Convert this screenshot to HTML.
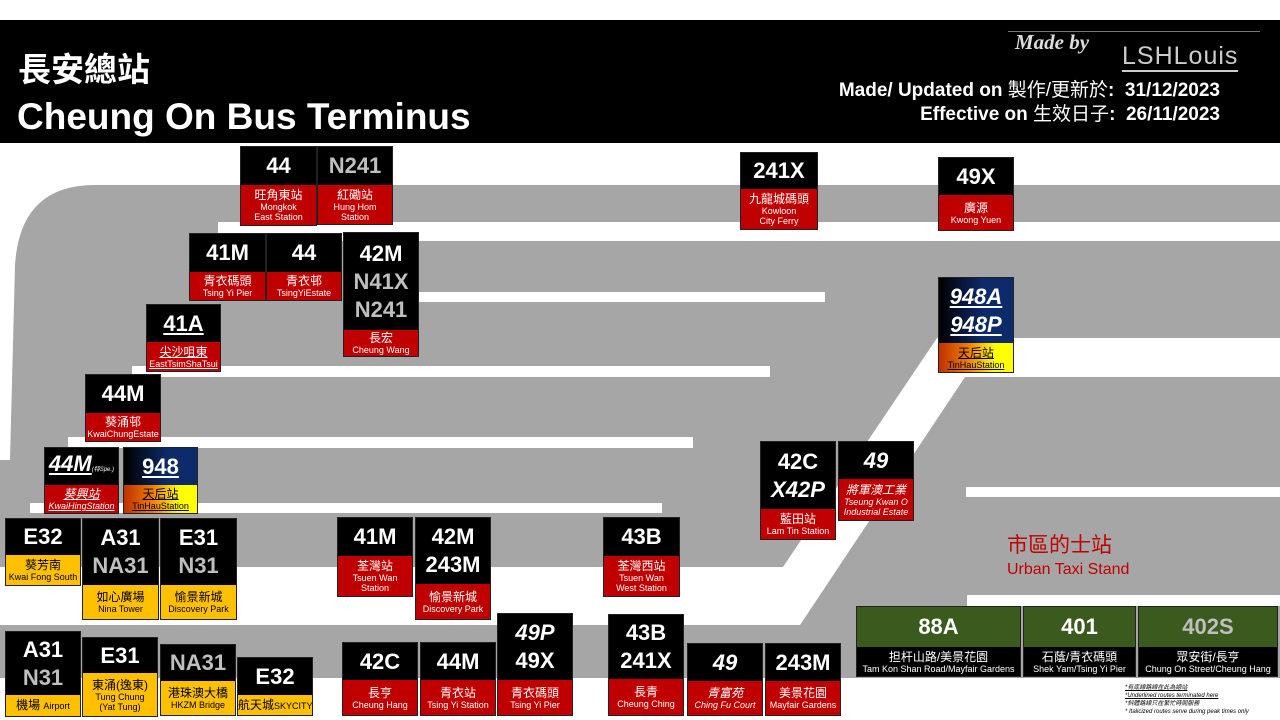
<!DOCTYPE html>
<html><head><meta charset="utf-8">
<style>
*{margin:0;padding:0}
body{width:1280px;height:720px;position:relative;overflow:hidden;background:#fff;font-family:"Liberation Sans","Noto Sans CJK TC",sans-serif}
.bx{position:absolute;display:flex;flex-direction:column;border:1px solid #222;box-sizing:border-box}
.t{background:#000;color:#fff;font-weight:bold;font-size:22px;line-height:28px;text-align:center;display:flex;flex-direction:column;justify-content:center}
.bt{flex:1;text-align:center;display:flex;flex-direction:column;justify-content:center;overflow:hidden;white-space:nowrap}
.r{background:#c00000;color:#fff}
.y{background:#ffc000;color:#000}
.ti{background:linear-gradient(90deg,#c03000,#f08000 40%,#ffff00 75%);color:#000}
.nv{background:linear-gradient(90deg,#000 0%,#0d2a6b 60%,#0d2a6b)}
.zh{font-size:12px;line-height:14px}
.en{font-size:9px;line-height:10px}
.g{color:#bfbfbf}
.i{font-style:italic}
.u{text-decoration:underline}
</style></head><body>
<svg width="1280" height="720" style="position:absolute;left:0;top:0">
<path d="M95,185 H1280 V678 H0 V460 L10,460 L15,265 Q20,185 95,185 Z" fill="#a6a6a6"/>
<rect x="218" y="222" width="1062" height="19" fill="#fff"/>
<rect x="418" y="292" width="407" height="10" fill="#fff"/>
<rect x="132" y="366" width="638" height="11" fill="#fff"/>
<rect x="68" y="437" width="625" height="11" fill="#fff"/>
<rect x="30" y="503" width="632" height="10" fill="#fff"/>
<rect x="966" y="487" width="314" height="10" fill="#fff"/>
<rect x="967" y="595" width="313" height="11" fill="#fff"/>
<polygon points="0,567 783,567 937,338 1280,338 1280,377 965,377 800,625 0,625" fill="#fff"/>
</svg>
<div style="position:absolute;left:0;top:20px;width:1280px;height:123px;background:#000"></div>
<div style="position:absolute;left:18px;top:50px;color:#fff;font-size:33px;font-weight:bold;line-height:40px">長安總站</div>
<div style="position:absolute;left:17px;top:95px;color:#fff;font-size:37px;font-weight:bold;line-height:44px">Cheung On Bus Terminus</div>
<div style="position:absolute;left:1008px;top:31px;width:252px;height:1px;background:#777"></div>
<div style="position:absolute;left:1015px;top:30px;color:#ddd;font-size:21px;font-style:italic;font-weight:bold;font-family:'Liberation Serif',serif">Made by</div>
<div style="position:absolute;left:1122px;top:42px;color:#ccc;font-size:25px;letter-spacing:1px;border-bottom:2px solid #ccc;line-height:28px">LSHLouis</div>
<div style="position:absolute;right:60px;top:79px;color:#fff;font-size:19px;font-weight:bold;line-height:24px;text-align:right;white-space:pre">Made/ Updated on <span style="font-weight:normal">製作/更新於</span>:  31/12/2023
Effective on <span style="font-weight:normal">生效日子</span>:  26/11/2023</div>

<div class="bx" style="left:240px;top:146px;width:77px;height:80px"><div class="t" style="height:38px">44</div><div class="bt r"><div class="zh">旺角東站</div><div class="en">Mongkok<br>East Station</div></div></div>
<div class="bx" style="left:317px;top:146px;width:76px;height:79px"><div class="t g" style="height:38px">N241</div><div class="bt r"><div class="zh">紅磡站</div><div class="en">Hung Hom<br>Station</div></div></div>
<div class="bx" style="left:189px;top:233px;width:77px;height:68px"><div class="t" style="height:38px">41M</div><div class="bt r"><div class="zh">青衣碼頭</div><div class="en">Tsing Yi Pier</div></div></div>
<div class="bx" style="left:266px;top:233px;width:76px;height:68px"><div class="t" style="height:38px">44</div><div class="bt r"><div class="zh">青衣邨</div><div class="en">TsingYiEstate</div></div></div>
<div class="bx" style="left:343px;top:232px;width:76px;height:125px"><div class="t" style="height:97px">42M<span class="g">N41X</span><span class="g">N241</span></div><div class="bt r"><div class="zh">長宏</div><div class="en">Cheung Wang</div></div></div>
<div class="bx" style="left:146px;top:304px;width:75px;height:68px"><div class="t" style="height:37px"><span class="u">41A</span></div><div class="bt r u"><div class="zh">尖沙咀東</div><div class="en">EastTsimShaTsui</div></div></div>
<div class="bx" style="left:85px;top:374px;width:76px;height:68px"><div class="t" style="height:38px">44M</div><div class="bt r"><div class="zh">葵涌邨</div><div class="en">KwaiChungEstate</div></div></div>
<div class="bx" style="left:44px;top:447px;width:75px;height:67px"><div class="t i" style="height:37px"><span><span class="u">44M</span><span style="font-size:6px;font-weight:normal">(特Spe.)</span></span></div><div class="bt r i u"><div class="zh">葵興站</div><div class="en">KwaiHingStation</div></div></div>
<div class="bx" style="left:123px;top:447px;width:75px;height:67px"><div class="t nv" style="height:37px"><span class="u">948</span></div><div class="bt ti u"><div class="zh">天后站</div><div class="en">TinHauStation</div></div></div>
<div class="bx" style="left:5px;top:518px;width:76px;height:68px"><div class="t" style="height:36px">E32</div><div class="bt y"><div class="zh">葵芳南</div><div class="en">Kwai Fong South</div></div></div>
<div class="bx" style="left:82px;top:518px;width:77px;height:102px"><div class="t" style="height:66px">A31<span class="g">NA31</span></div><div class="bt y"><div class="zh">如心廣場</div><div class="en">Nina Tower</div></div></div>
<div class="bx" style="left:160px;top:518px;width:77px;height:102px"><div class="t" style="height:66px">E31<span class="g">N31</span></div><div class="bt y"><div class="zh">愉景新城</div><div class="en">Discovery Park</div></div></div>
<div class="bx" style="left:337px;top:517px;width:76px;height:80px"><div class="t" style="height:38px">41M</div><div class="bt r"><div class="zh">荃灣站</div><div class="en">Tsuen Wan<br>Station</div></div></div>
<div class="bx" style="left:415px;top:517px;width:76px;height:103px"><div class="t" style="height:66px">42M<span>243M</span></div><div class="bt r"><div class="zh">愉景新城</div><div class="en">Discovery Park</div></div></div>
<div class="bx" style="left:603px;top:517px;width:77px;height:80px"><div class="t" style="height:38px">43B</div><div class="bt r"><div class="zh">荃灣西站</div><div class="en">Tsuen Wan<br>West Station</div></div></div>
<div class="bx" style="left:5px;top:631px;width:76px;height:86px"><div class="t" style="height:63px">A31<span class="g">N31</span></div><div class="bt y"><div class="zh">機場 <span style="font-size:9px">Airport</span></div></div></div>
<div class="bx" style="left:82px;top:637px;width:76px;height:80px"><div class="t" style="height:35px">E31</div><div class="bt y"><div class="zh">東涌(逸東)</div><div class="en">Tung Chung<br>(Yat Tung)</div></div></div>
<div class="bx" style="left:160px;top:644px;width:76px;height:72px"><div class="t g" style="height:36px">NA31</div><div class="bt y"><div class="zh">港珠澳大橋</div><div class="en">HKZM Bridge</div></div></div>
<div class="bx" style="left:237px;top:657px;width:76px;height:59px"><div class="t" style="height:37px">E32</div><div class="bt y"><div class="zh">航天城<span style="font-size:9px">SKYCITY</span></div></div></div>
<div class="bx" style="left:342px;top:642px;width:76px;height:74px"><div class="t" style="height:37px">42C</div><div class="bt r"><div class="zh">長亨</div><div class="en">Cheung Hang</div></div></div>
<div class="bx" style="left:420px;top:642px;width:76px;height:74px"><div class="t" style="height:37px">44M</div><div class="bt r"><div class="zh">青衣站</div><div class="en">Tsing Yi Station</div></div></div>
<div class="bx" style="left:497px;top:613px;width:76px;height:103px"><div class="t" style="height:66px"><span class="i">49P</span><span>49X</span></div><div class="bt r"><div class="zh">青衣碼頭</div><div class="en">Tsing Yi Pier</div></div></div>
<div class="bx" style="left:608px;top:614px;width:76px;height:102px"><div class="t" style="height:64px">43B<span>241X</span></div><div class="bt r"><div class="zh">長青</div><div class="en">Cheung Ching</div></div></div>
<div class="bx" style="left:687px;top:643px;width:76px;height:73px"><div class="t i" style="height:37px">49</div><div class="bt r i"><div class="zh">青富苑</div><div class="en">Ching Fu Court</div></div></div>
<div class="bx" style="left:765px;top:643px;width:76px;height:73px"><div class="t" style="height:37px">243M</div><div class="bt r"><div class="zh">美景花園</div><div class="en">Mayfair Gardens</div></div></div>
<div class="bx" style="left:740px;top:152px;width:78px;height:78px"><div class="t" style="height:36px">241X</div><div class="bt r"><div class="zh">九龍城碼頭</div><div class="en">Kowloon<br>City Ferry</div></div></div>
<div class="bx" style="left:938px;top:157px;width:76px;height:74px"><div class="t" style="height:37px">49X</div><div class="bt r"><div class="zh">廣源</div><div class="en">Kwong Yuen</div></div></div>
<div class="bx" style="left:938px;top:277px;width:76px;height:96px"><div class="t nv i" style="height:65px"><span class="u">948A</span><span class="u">948P</span></div><div class="bt ti u"><div class="zh">天后站</div><div class="en">TinHauStation</div></div></div>
<div class="bx" style="left:760px;top:441px;width:76px;height:99px"><div class="t" style="height:67px">42C<span class="i">X42P</span></div><div class="bt r"><div class="zh">藍田站</div><div class="en">Lam Tin Station</div></div></div>
<div class="bx" style="left:838px;top:441px;width:76px;height:80px"><div class="t i" style="height:37px">49</div><div class="bt r i"><div class="zh">將軍澳工業</div><div class="en">Tseung Kwan O<br>Industrial Estate</div></div></div>

<div class="bx" style="left:856px;top:606px;width:165px;height:71px"><div class="t" style="height:40px;background:#3a5a1e">88A</div><div class="bt" style="background:#000;color:#fff"><div class="zh">担杆山路/美景花園</div><div class="en">Tam Kon Shan Road/Mayfair Gardens</div></div></div>
<div class="bx" style="left:1023px;top:606px;width:113px;height:71px"><div class="t" style="height:40px;background:#3a5a1e">401</div><div class="bt" style="background:#000;color:#fff"><div class="zh">石蔭/青衣碼頭</div><div class="en">Shek Yam/Tsing Yi Pier</div></div></div>
<div class="bx" style="left:1138px;top:606px;width:140px;height:71px"><div class="t" style="height:40px;background:#3a5a1e;color:#bfbfbf">402S</div><div class="bt" style="background:#000;color:#fff"><div class="zh">眾安街/長亨</div><div class="en">Chung On Street/Cheung Hang</div></div></div>

<div style="position:absolute;left:1007px;top:533px;color:#c00000;font-size:21px;line-height:26px">市區的士站</div>
<div style="position:absolute;left:1007px;top:560px;color:#c00000;font-size:16px;line-height:20px">Urban Taxi Stand</div>

<div style="position:absolute;left:1125px;top:684px;font-size:6px;line-height:8px;font-style:italic;color:#000">
<div class="u">*有底線路線在此為總站</div><div class="u">*Underlined routes terminated here</div><div>*斜體路線只在繁忙時間服務</div><div>* Italicized routes serve during peak times only</div></div>
</body></html>
